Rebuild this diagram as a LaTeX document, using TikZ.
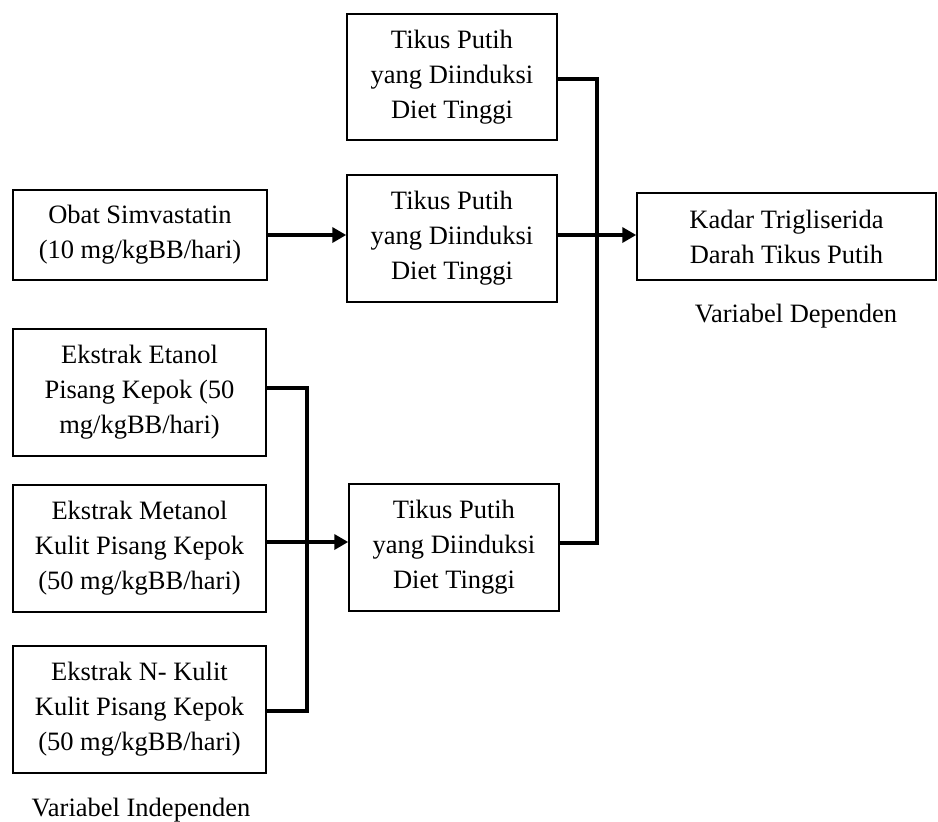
\documentclass[tikz,border=0pt]{standalone}
\usepackage{fontspec}
\setmainfont{Liberation Serif}
\usetikzlibrary{arrows.meta}
\begin{document}
\begin{tikzpicture}[x=1pt,y=-1pt,
  box/.style={draw,line width=1.5pt,inner sep=0pt,align=center,font=\fontsize{26.5}{35}\selectfont},
  threebox/.style={box,minimum height=127pt},
  conn/.style={line width=4pt,line join=miter},
  arr/.style={line width=4pt,-{Triangle[length=14pt,width=15pt]}},
  lbl/.style={font=\fontsize{26.5}{35}\selectfont,inner sep=0pt}]
\useasboundingbox (0,0) rectangle (938,822);
\fill[white] (0,0) rectangle (938,822);
\node[threebox,minimum width=210pt,minimum height=126pt] (t1) at (452,77) {Tikus Putih\\yang Diinduksi\\Diet Tinggi};
\node[threebox,minimum width=210pt] (t2) at (452,238.5) {Tikus Putih\\yang Diinduksi\\Diet Tinggi};
\node[threebox,minimum width=210pt] (t3) at (454,547.5) {Tikus Putih\\yang Diinduksi\\Diet Tinggi};
\node[box,minimum width=254pt,minimum height=90pt] (obat) at (140,235) {Obat Simvastatin\\(10 mg/kgBB/hari)};
\node[box,minimum width=299pt,minimum height=87pt] (kadar) at (786.5,236.5) {Kadar Trigliserida\\Darah Tikus Putih};
\node[threebox,minimum width=253pt] (etanol) at (139.5,392.5) {Ekstrak Etanol\\Pisang Kepok (50\\mg/kgBB/hari)};
\node[threebox,minimum width=253pt] (metanol) at (139.5,548.5) {Ekstrak Metanol\\Kulit Pisang Kepok\\(50 mg/kgBB/hari)};
\node[threebox,minimum width=253pt] (nx) at (139.5,709.5) {Ekstrak N- Kulit\\Kulit Pisang Kepok\\(50 mg/kgBB/hari)};
\node[lbl] (dep) at (796,316) {Variabel Dependen};
\node[lbl] (indep) at (141,810) {Variabel Independen};
% right bus
\coordinate (rb1) at (597,79);
\coordinate (rb2) at (597,543);
\coordinate (rj) at (597,235);
\draw[conn] (t1.east |- rb1) -- (rb1) -- (rb2) -- (t3.east |- rb2);
\draw[conn] (t2.east |- rj) -- (rj);
\draw[arr] (rj) -- (kadar.west |- rj);
% obat
\draw[arr] (obat.east) -- (obat.east -| t2.west);
% left bus
\coordinate (lb1) at (307,388);
\coordinate (lb2) at (307,711);
\coordinate (lj) at (307,542);
\draw[conn] (etanol.east |- lb1) -- (lb1) -- (lb2) -- (nx.east |- lb2);
\draw[arr] (metanol.east |- lj) -- (t3.west |- lj);
\end{tikzpicture}
\end{document}
